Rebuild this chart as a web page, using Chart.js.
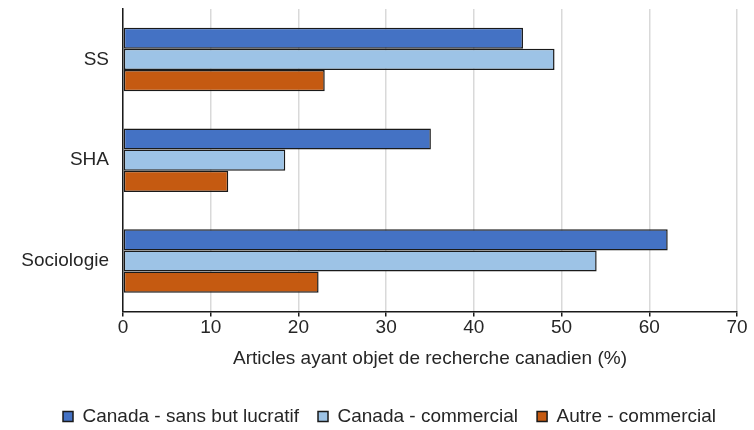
<!DOCTYPE html>
<html>
<head>
<meta charset="utf-8">
<script src="https://cdn.jsdelivr.net/npm/chart.js@4"></script>
<style>
  html, body { margin: 0; padding: 0; background: #ffffff; }
  #wrap { width: 754px; height: 430px; position: relative; }
</style>
</head>
<body>
<div id="wrap"><canvas id="c" width="754" height="430"></canvas></div>
<script>
const categories = ["SS", "SHA", "Sociologie"];
const seriesNames = ["Canada - sans but lucratif", "Canada - commercial", "Autre - commercial"];
const canadaSansBut = [45.6, 35.1, 62.1];
const canadaCommercial = [49.2, 18.5, 54.0];
const autreCommercial = [23.0, 12.0, 22.3];
const xTicks = [0, 10, 20, 30, 40, 50, 60, 70];
const xTitle = "Articles ayant objet de recherche canadien (%)";

const colors = ["#4472C4", "#9DC3E6", "#C55A11"];
const textColor = "#262626";
const fontFamily = "'Liberation Sans', Arial, sans-serif";
const fs = 19;

const data = {
  labels: categories,
  datasets: [canadaSansBut, canadaCommercial, autreCommercial].map((vals, i) => ({
    label: seriesNames[i],
    data: vals,
    backgroundColor: colors[i],
    borderColor: "#1a1a1a",
    borderWidth: 1.5,
    borderSkipped: false,
    categoryPercentage: 0.63,
    barPercentage: 1.0
  }))
};

const legendShift = {
  id: "legendShift",
  afterLayout(chart) {
    if (chart.legend) { chart.legend.left += 16; chart.legend.right += 16; }
  }
};

new Chart(document.getElementById("c"), {
  type: "bar",
  data: data,
  plugins: [legendShift],
  options: {
    indexAxis: "y",
    responsive: false,
    animation: false,
    devicePixelRatio: 1,
    layout: { padding: { top: 9, right: 17, bottom: -6, left: 10 } },
    scales: {
      x: {
        min: 0, max: 70,
        afterBuildTicks: (scale) => { scale.ticks = xTicks.map(v => ({ value: v })); },
        grid: { color: "#d9d9d9", lineWidth: 1.5, tickColor: "#1a1a1a", tickLength: 5, drawOnChartArea: true },
        border: { display: true, color: "#1a1a1a", width: 1.5 },
        ticks: { color: textColor, font: { family: fontFamily, size: fs }, padding: 0, autoSkip: false, maxRotation: 0 },
        title: { display: true, text: xTitle, color: textColor, font: { family: fontFamily, size: fs }, padding: { top: 8, bottom: 18 } }
      },
      y: {
        grid: { display: false, drawTicks: false },
        border: { display: true, color: "#1a1a1a", width: 1.5 },
        ticks: { color: textColor, font: { family: fontFamily, size: fs }, padding: 14 },
        afterFit: (scale) => { scale.width = 113; scale.paddingTop = 0; scale.paddingBottom = 0; }
      }
    },
    plugins: {
      legend: {
        position: "bottom",
        labels: {
          color: textColor,
          font: { family: fontFamily, size: fs },
          boxWidth: 10, boxHeight: 10,
          padding: 19,
          generateLabels: (chart) => chart.data.datasets.map((ds, i) => ({
            text: ds.label,
            fillStyle: ds.backgroundColor,
            strokeStyle: "#1a1a1a",
            lineWidth: 1.5,
            datasetIndex: i,
            fontColor: textColor
          }))
        }
      },
      tooltip: { enabled: false }
    }
  }
});
</script>
</body>
</html>
